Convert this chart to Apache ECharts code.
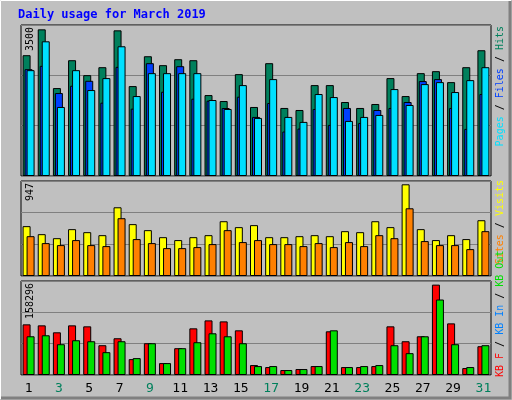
<!DOCTYPE html>
<html>
<head>
<meta charset="utf-8">
<script src="https://cdn.jsdelivr.net/npm/echarts@6/dist/echarts.min.js"></script>
<style>html,body{margin:0;padding:0;background:#c0c0c0}#main{width:512px;height:400px}</style>
</head>
<body>
<div id="main"></div>
<script>
var days = [];
for (var d = 1; d <= 31; d++) days.push(String(d));
var weekends = ['2','3','9','10','16','17','23','24','30','31'];

var hits  = [2800,3399,2038,2684,2338,2522,3376,2084,2776,2569,2707,2684,1876,1738,2361,1600,2615,1577,1530,2107,2107,1715,1577,1669,2269,1853,2384,2430,2176,2522,2915];
var files = [2476,2553,1923,2092,2207,1700,2530,1561,2615,1953,2545,1792,1746,1576,1838,1369,1692,1031,1100,1553,1184,1577,1230,1530,1577,1715,2200,2246,1577,1092,1900];
var pages = [2453,3122,1600,2453,1992,2269,3007,1853,2384,2384,2384,2384,1761,1553,2107,1346,2246,1369,1254,1900,1830,1277,1369,1415,2015,1646,2130,2176,1946,2222,2522];

var visits = [497,417,377,467,437,407,685,517,457,387,358,387,407,546,487,507,387,387,397,407,397,447,437,546,487,914,467,358,407,368,556];
var sites  = [397,328,308,358,308,298,576,368,328,278,278,288,318,457,338,358,318,318,298,328,288,338,298,407,377,675,348,308,308,268,447];

var kbF   = [85280,83610,71905,83610,81940,50165,61870,26755,53510,20065,45150,78595,91970,90300,75250,16720,13380,8360,10030,15050,73575,13380,13380,15050,81940,56855,65216,152170,86955,11705,48490];
var kbOut = [65216,66890,51840,58530,56855,38460,56855,28430,53510,20065,45150,55180,70230,65216,53510,15050,15050,8360,10030,15050,75250,13380,15050,16720,50165,36790,65216,127090,51840,13380,50165];

var maxHits = 3500, maxVisits = 947, maxKB = 158296;

var myChart = echarts.init(document.getElementById('main'));
var mono = 'DejaVu Sans Mono';
var bs = {borderColor: '#000', borderWidth: 1};

function xAx(i, show) {
    return {
        type: 'category', gridIndex: i, data: days,
        axisLine: {show: false}, axisTick: {show: false},
        axisLabel: {
            show: show, fontFamily: mono, fontSize: 13, margin: 7,
            color: function (v) { return weekends.indexOf(v) >= 0 ? '#00805c' : '#000'; }
        }
    };
}
function yAx(i, max) {
    return {
        type: 'value', gridIndex: i, min: 0, max: max, interval: max / 3,
        axisLabel: {show: false}, axisLine: {show: false}, axisTick: {show: false},
        splitLine: {lineStyle: {color: '#808080', width: 1}}
    };
}
function gr(top, h) {
    return {left: 21, width: 470, top: top, height: h, show: true,
            backgroundColor: '#c0c0c0', borderColor: '#000', borderWidth: 1};
}
function vtext(x, y, align, rich, parts, size) {
    return {
        type: 'text', x: x, y: y, rotation: Math.PI / 2,
        style: {text: parts, rich: rich, align: align, verticalAlign: 'middle',
                fontFamily: mono, fontSize: size}
    };
}

option = {
    backgroundColor: '#c0c0c0',
    animation: false,
    grid: [gr(25, 151), gr(181, 95), gr(281, 94)],
    xAxis: [xAx(0, false), xAx(1, false), xAx(2, true)],
    yAxis: [yAx(0, maxHits), yAx(1, maxVisits), yAx(2, maxKB)],
    series: [
        {type: 'bar', name: 'Hits', xAxisIndex: 0, yAxisIndex: 0, data: hits, barWidth: 8, barGap: '-75%', itemStyle: Object.assign({color: '#00805c'}, bs)},
        {type: 'bar', name: 'Files', xAxisIndex: 0, yAxisIndex: 0, data: files, barWidth: 8, barGap: '-75%', itemStyle: Object.assign({color: '#0040ff'}, bs)},
        {type: 'bar', name: 'Pages', xAxisIndex: 0, yAxisIndex: 0, data: pages, barWidth: 8, barGap: '-75%', itemStyle: Object.assign({color: '#00e0ff'}, bs)},
        {type: 'bar', name: 'Visits', xAxisIndex: 1, yAxisIndex: 1, data: visits, barWidth: 8, barGap: '-50%', itemStyle: Object.assign({color: '#ffff00'}, bs)},
        {type: 'bar', name: 'Sites', xAxisIndex: 1, yAxisIndex: 1, data: sites, barWidth: 8, barGap: '-50%', itemStyle: Object.assign({color: '#ff8000'}, bs)},
        {type: 'bar', name: 'KB F', xAxisIndex: 2, yAxisIndex: 2, data: kbF, barWidth: 8, barGap: '-50%', itemStyle: Object.assign({color: '#ff0000'}, bs)},
        {type: 'bar', name: 'KB Out', xAxisIndex: 2, yAxisIndex: 2, data: kbOut, barWidth: 8, barGap: '-50%', itemStyle: Object.assign({color: '#00e000'}, bs)}
    ],
    graphic: [
        {type: 'polyline', shape: {points: [[0.5, 399], [0.5, 0.5], [511, 0.5]]}, style: {stroke: '#fff', lineWidth: 1, fill: null}},
        {type: 'polyline', shape: {points: [[1, 398], [510, 398], [510, 1]]}, style: {stroke: '#808080', lineWidth: 3, fill: null}},
        {type: 'text', x: 18, y: 15, style: {text: 'Daily usage for March 2019', fill: '#0000ff',
            font: 'bold 12px ' + mono, verticalAlign: 'middle'}},
        vtext(30, 27, 'right', {}, String(maxHits), 10),
        vtext(30, 183, 'right', {}, String(maxVisits), 10),
        vtext(30, 283, 'right', {}, String(maxKB), 10),
        vtext(500, 26, 'right', {p: {fill: '#00e0ff'}, f: {fill: '#0040ff'}, h: {fill: '#00805c'}},
            '{p|Pages} / {f|Files} / {h|Hits}', 10),
        vtext(500, 180, 'right', {s: {fill: '#ff8000'}, v: {fill: '#ffff00'}},
            '{s|Sites} / {v|Visits}', 10),
        vtext(500, 377, 'left', {f: {fill: '#ff0000'}, i: {fill: '#0080ff'}, o: {fill: '#00e000'}},
            '{f|KB F} / {i|KB In} / {o|KB Out}', 10)
    ]
};

myChart.setOption(option);
</script>
</body>
</html>
